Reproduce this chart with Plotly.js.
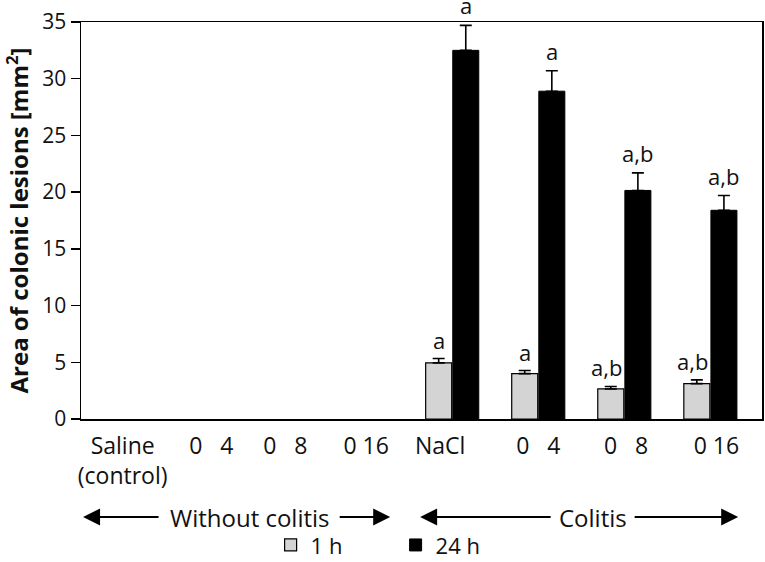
<!DOCTYPE html>
<html>
<head>
<meta charset="utf-8">
<script src="https://cdn.plot.ly/plotly-3.0.1.min.js"></script>
<style>
  html, body { margin: 0; padding: 0; background: #fff; }
  #chart { width: 765px; height: 562px; }
</style>
</head>
<body>
<div id="chart"></div>
<script>
// categories (index order on the x axis)
var groups = ['Saline<br>(control)', '0\u00a0\u00a0\u00a04', '0\u00a0\u00a0\u00a08', '0\u00a016',
              'NaCl', '0\u00a0\u00a0\u00a04', '0\u00a0\u00a0\u00a08', '0\u00a016'];
// where each tick label sits, in category units
var labelPos = [0.17, 1.2, 2.06, 3.0, 3.86, 5.0, 6.02, 7.07];

// area of colonic lesions [mm2]
var hour1 = [null, null, null, null, 4.95, 4.0, 2.65, 3.12];
var hour1Err = [0, 0, 0, 0, 0.38, 0.27, 0.22, 0.33];
var hour24 = [null, null, null, null, 32.5, 28.9, 20.15, 18.4];
var hour24Err = [0, 0, 0, 0, 2.2, 1.8, 1.55, 1.3];
var sig1 = ['', '', '', '', 'a', 'a', 'a,b', 'a,b'];
var sig24 = ['', '', '', '', 'a', 'a', 'a,b', 'a,b'];

var FONT = 'Open Sans, sans-serif';
var idx = groups.map(function(g, i) { return i; });
var zeros = idx.map(function() { return 0; });

var bargap = 0.37;
var half = (1 - bargap) / 4;   // offset of each bar centre from the category centre

var trace1 = {
    x: idx, y: hour1, name: '1 h', type: 'bar',
    marker: { color: '#d4d4d4', line: { color: '#000', width: 1.2 } },
    error_y: { type: 'data', symmetric: false, array: hour1Err, arrayminus: zeros,
               color: '#000', thickness: 1.6, width: 6 }
};
var trace2 = {
    x: idx, y: hour24, name: '24 h', type: 'bar',
    marker: { color: '#000', line: { color: '#000', width: 1 } },
    error_y: { type: 'data', symmetric: false, array: hour24Err, arrayminus: zeros,
               color: '#000', thickness: 1.6, width: 6 }
};

var annotations = [];
idx.forEach(function(i) {
    if (sig1[i]) annotations.push({
        x: i - half, y: hour1[i] + hour1Err[i], xref: 'x', yref: 'y',
        text: sig1[i], showarrow: false, yanchor: 'bottom', yshift: 2,
        xshift: sig1[i].length > 1 ? -4 : 0,
        font: { family: FONT, size: 22, color: '#111' }
    });
    if (sig24[i]) annotations.push({
        x: i + half, y: hour24[i] + hour24Err[i], xref: 'x', yref: 'y',
        text: sig24[i], showarrow: false, yanchor: 'bottom', yshift: 3,
        font: { family: FONT, size: 22, color: '#111' }
    });
});

// arrows under the axis: "Without colitis" and "Colitis"
var yArr = -0.247;
function arrow(xHead, dx) {
    return { xref: 'paper', yref: 'paper', axref: 'pixel', ayref: 'pixel',
             x: xHead, y: yArr, ax: dx, ay: 0, text: '', showarrow: true,
             arrowhead: 2, arrowsize: 1.7, arrowwidth: 2, arrowcolor: '#000' };
}
annotations.push(arrow(0.003, 77));
annotations.push(arrow(0.454, -52));
annotations.push(arrow(0.498, 132));
annotations.push(arrow(0.965, -105));
annotations.push({ xref: 'paper', yref: 'paper', x: 0.248, y: yArr, xanchor: 'center', yanchor: 'middle',
                   text: 'Without colitis', showarrow: false, font: { family: FONT, size: 24, color: '#111' } });
annotations.push({ xref: 'paper', yref: 'paper', x: 0.752, y: yArr, xanchor: 'center', yanchor: 'middle',
                   text: 'Colitis', showarrow: false, font: { family: FONT, size: 24, color: '#111' } });

var layout = {
    width: 765, height: 562,
    margin: { l: 81, r: 3, t: 22, b: 143 },
    paper_bgcolor: '#fff', plot_bgcolor: '#fff',
    barmode: 'group', bargap: bargap, bargroupgap: 0.04,
    font: { family: FONT, color: '#111' },
    showlegend: true,
    legend: { orientation: 'h', xref: 'paper', x: 0.462, xanchor: 'center',
              yref: 'container', y: 0.03, yanchor: 'middle',
              entrywidth: 80,
              font: { family: FONT, size: 22, color: '#111' }, traceorder: 'normal' },
    xaxis: {
        range: [-0.314, 7.6], tickvals: labelPos, ticktext: groups,
        showline: true, linecolor: '#000', linewidth: 1.5, mirror: true,
        ticks: '', showgrid: false, zeroline: false, ticklabelstandoff: 6,
        tickfont: { family: FONT, size: 23, color: '#111' }
    },
    yaxis: {
        range: [0, 35], tickvals: [0, 5, 10, 15, 20, 25, 30, 35],
        showline: true, linecolor: '#000', linewidth: 1.5, mirror: true,
        ticks: 'outside', ticklen: 9, tickwidth: 1.5, tickcolor: '#000',
        showgrid: false, zeroline: false,
        tickfont: { family: FONT, size: 21, color: '#111' },
        title: { text: 'Area of colonic lesions [mm<sup>2</sup>]', standoff: 22,
                 font: { family: FONT, size: 24, color: '#111', weight: 'bold' } }
    },
    annotations: annotations
};

Plotly.newPlot('chart', [trace1, trace2], layout, { displayModeBar: false, staticPlot: true });
</script>
</body>
</html>
